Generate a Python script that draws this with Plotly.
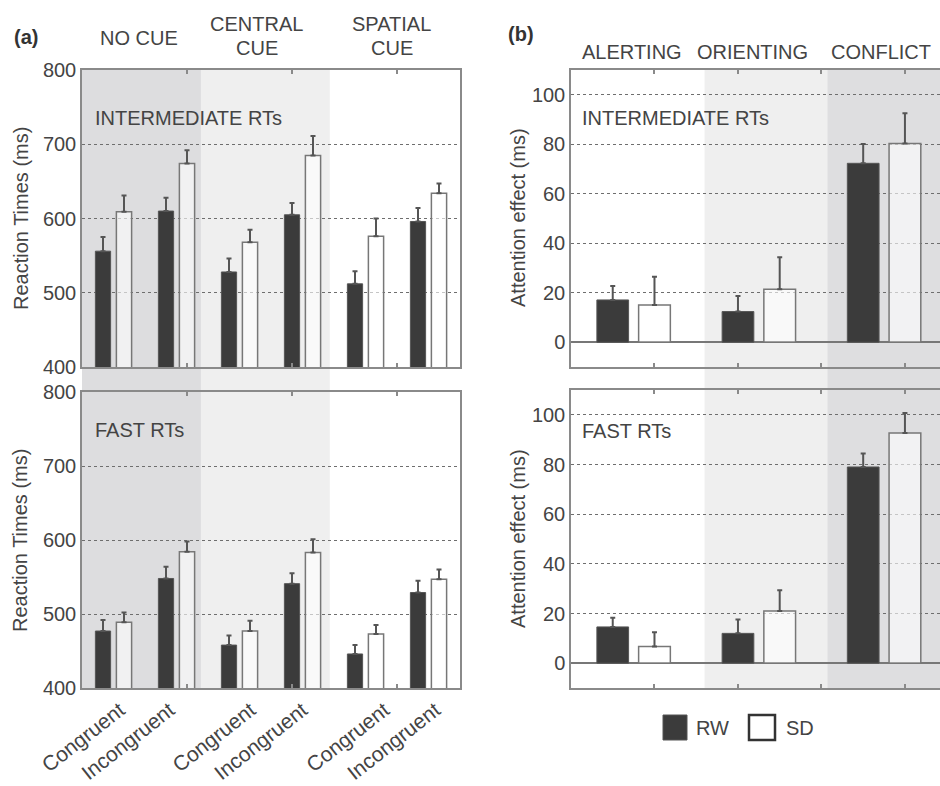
import plotly.graph_objects as go

# ---------------- data ----------------
cue_labels = ["NO CUE", "CENTRAL<br>CUE", "SPATIAL<br>CUE"]
conditions = ["Congruent", "Incongruent", "Congruent", "Incongruent", "Congruent", "Incongruent"]
effect_labels = ["ALERTING", "ORIENTING", "CONFLICT"]
group_names = ["RW", "SD"]

inter_rw = [556, 610, 528, 605, 512, 596]
inter_rw_err = [19, 18, 18, 16, 17, 18]
inter_sd = [609, 674, 568, 685, 576, 634]
inter_sd_err = [22, 18, 17, 26, 24, 13]

fast_rw = [477, 548, 458, 541, 446, 529]
fast_rw_err = [15, 16, 13, 14, 12, 16]
fast_sd = [489, 584, 477, 583, 473, 547]
fast_sd_err = [13, 14, 14, 18, 12, 13]

eff_inter_rw = [17.1, 12.4, 72.3]
eff_inter_rw_err = [5.6, 6.3, 7.8]
eff_inter_sd = [15.1, 21.4, 80.3]
eff_inter_sd_err = [11.4, 12.9, 12.2]

eff_fast_rw = [14.6, 12.0, 79.0]
eff_fast_rw_err = [3.7, 5.6, 5.4]
eff_fast_sd = [6.7, 21.0, 92.7]
eff_fast_sd_err = [5.8, 8.4, 8.0]

# ---------------- style ----------------
FONT = "Liberation Sans, Arial, Helvetica, sans-serif"
TXT = "#444444"
FRAME = "#8a8a8a"
DARK = "#3b3b3b"
ERR = "#555555"
GRID = "#6e6e6e"
W, H = 940, 786

def px(x):
    return x / W

def py(y):
    return 1 - y / H

# positions of groups (axis units)
left_centers = [0.3 + 0.6 * i for i in range(len(conditions))]
right_centers = [0.75 + 1.5 * i for i in range(len(effect_labels))]
# positions of the rotated condition labels (as in the original layout)
label_pos = [0.36, 0.835, 1.605, 2.10, 2.88, 3.365]

fig = go.Figure()

def add_bars(xa, ya, centers, off, width, rw, rwe, sd, sde):
    fig.add_trace(go.Bar(
        x=[c - off for c in centers], y=rw, width=width, xaxis=xa, yaxis=ya,
        marker=dict(color=DARK, line=dict(color="#555555", width=1)),
        error_y=dict(type="data", array=rwe, symmetric=False,
                     arrayminus=[0] * len(rwe), color=ERR, thickness=2, width=2.5),
        name="RW", showlegend=False))
    fig.add_trace(go.Bar(
        x=[c + off for c in centers], y=sd, width=width, xaxis=xa, yaxis=ya,
        marker=dict(color="rgba(255,255,255,0.6)", line=dict(color="#777777", width=1.5)),
        error_y=dict(type="data", array=sde, symmetric=False,
                     arrayminus=[0] * len(sde), color=ERR, thickness=2, width=2.5),
        name="SD", showlegend=False))

add_bars("x", "y", left_centers, 0.1, 0.145, inter_rw, inter_rw_err, inter_sd, inter_sd_err)
add_bars("x2", "y2", left_centers, 0.1, 0.145, fast_rw, fast_rw_err, fast_sd, fast_sd_err)
add_bars("x3", "y3", right_centers, 0.25, 0.38, eff_inter_rw, eff_inter_rw_err, eff_inter_sd, eff_inter_sd_err)
add_bars("x4", "y4", right_centers, 0.25, 0.38, eff_fast_rw, eff_fast_rw_err, eff_fast_sd, eff_fast_sd_err)

# ---------------- axes ----------------
xl_dom = [px(82), px(460)]
xr_dom = [px(571), 1.0]
yt_dom = [py(367), py(70)]
yb_dom = [py(688), py(392)]
yrb_dom = [py(688), py(390)]

xcommon = dict(showline=True, linecolor=FRAME, linewidth=1.5, mirror="ticks",
               showgrid=False, zeroline=False, automargin=False)
minor_left = dict(tickvals=[1, 2, 3], ticks="inside", ticklen=4, tickcolor=FRAME,
                  tickwidth=1.5, showgrid=False)
ycommon = dict(showline=True, linecolor=FRAME, linewidth=1.5, ticks="",
               showgrid=True, gridcolor=GRID, gridwidth=1.2, griddash="3px,3px",
               tickfont=dict(size=20, color=TXT, family=FONT), automargin=False)

fig.update_layout(
    xaxis=dict(domain=xl_dom, range=[0, 3.6], tickvals=[1, 2, 3], anchor="y",
               ticks="inside", ticklen=4, tickcolor=FRAME, tickwidth=1.5,
               showticklabels=False, **xcommon),
    xaxis2=dict(domain=xl_dom, range=[0, 3.6], tickvals=label_pos, ticktext=conditions,
                tickangle=-38, ticks="", anchor="y2", minor=minor_left,
                tickfont=dict(size=21, color=TXT, family=FONT), **xcommon),
    xaxis3=dict(domain=xr_dom, range=[0, 4.42], tickvals=[1, 2, 3, 4], anchor="y3",
                ticks="inside", ticklen=4, tickcolor=FRAME, tickwidth=1.5,
                showticklabels=False, **xcommon),
    xaxis4=dict(domain=xr_dom, range=[0, 4.42], tickvals=[1, 2, 3, 4], anchor="y4",
                ticks="inside", ticklen=4, tickcolor=FRAME, tickwidth=1.5,
                showticklabels=False, **xcommon),
    yaxis=dict(domain=yt_dom, range=[400, 800], tickvals=[400, 500, 600, 700, 800],
               anchor="x", mirror=True, zeroline=False, **ycommon),
    yaxis2=dict(domain=yb_dom, range=[400, 800], tickvals=[400, 500, 600, 700, 800],
                anchor="x2", mirror=True, zeroline=False, **ycommon),
    yaxis3=dict(domain=yt_dom, range=[-10, 110], tickvals=[0, 20, 40, 60, 80, 100],
                anchor="x3", mirror=False, zeroline=True, zerolinecolor="#777777",
                zerolinewidth=1.5, **ycommon),
    yaxis4=dict(domain=yrb_dom, range=[-10, 110], tickvals=[0, 20, 40, 60, 80, 100],
                anchor="x4", mirror=False, zeroline=True, zerolinecolor="#777777",
                zerolinewidth=1.5, **ycommon),
    barmode="overlay",
    width=W, height=H, autosize=False,
    margin=dict(l=0, r=0, t=0, b=0),
    paper_bgcolor="white", plot_bgcolor="rgba(0,0,0,0)",
    font=dict(family=FONT, size=20, color=TXT),
    showlegend=False,
)

# ---------------- background shading ----------------
shade_top = py(70)
shade_bot = py(688)
shapes = [
    dict(type="rect", xref="x", yref="paper", x0=-0.05, x1=1.133, y0=shade_bot, y1=shade_top,
         fillcolor="#dddddf", line=dict(width=0), layer="below"),
    dict(type="rect", xref="x", yref="paper", x0=1.133, x1=2.36, y0=shade_bot, y1=shade_top,
         fillcolor="#efefef", line=dict(width=0), layer="below"),
    dict(type="rect", xref="x3", yref="paper", x0=1.6, x1=3.07, y0=shade_bot, y1=shade_top,
         fillcolor="#efefef", line=dict(width=0), layer="below"),
    dict(type="rect", xref="x3", yref="paper", x0=3.07, x1=4.5, y0=shade_bot, y1=shade_top,
         fillcolor="#dedee0", line=dict(width=0), layer="below"),
    # legend swatches
    dict(type="rect", xref="paper", yref="paper", x0=px(663), x1=px(687), y0=py(740), y1=py(715),
         fillcolor=DARK, line=dict(color="#555555", width=1)),
    dict(type="rect", xref="paper", yref="paper", x0=px(749), x1=px(775), y0=py(740), y1=py(715),
         fillcolor="white", line=dict(color="#333333", width=2.5)),
]
fig.update_layout(shapes=shapes)

# ---------------- annotations ----------------
ann = []

def text(x, y, t, size=20, xanchor="center", bold=False, angle=0, color=TXT):
    ann.append(dict(x=px(x), y=py(y), xref="paper", yref="paper", text=("<b>%s</b>" % t) if bold else t,
                    showarrow=False, xanchor=xanchor, yanchor="middle", textangle=angle,
                    font=dict(size=size, color=color, family=FONT)))

text(12, 37, "(a)", bold=True, xanchor="left", color="#333333")
text(506, 34, "(b)", bold=True, xanchor="left", color="#333333")

text(138.5, 37.5, cue_labels[0])
for i, cx in enumerate([256.5, 391.5]):
    top, bottom = cue_labels[i + 1].split("<br>")
    text(cx, 24, top)
    text(cx, 48, bottom)

for lab, cx in zip(effect_labels, [632, 752.5, 881]):
    text(cx, 52, lab)

text(93, 118, "INTERMEDIATE RTs", xanchor="left")
text(580, 118, "INTERMEDIATE RTs", xanchor="left")
text(93, 430, "FAST RTs", xanchor="left")
text(580, 431, "FAST RTs", xanchor="left")

text(21, 219, "Reaction Times (ms)", angle=-90)
text(20, 541, "Reaction Times (ms)", angle=-90)
text(518, 218, "Attention effect (ms)", angle=-90)
text(518, 539, "Attention effect (ms)", angle=-90)

# legend labels
text(694, 728, group_names[0], xanchor="left")
text(784, 728, group_names[1], xanchor="left")

fig.update_layout(annotations=ann)

fig.write_html("out.html", config={"displayModeBar": False},
               post_script="document.body.style.margin='0';document.body.style.overflow='hidden';")
